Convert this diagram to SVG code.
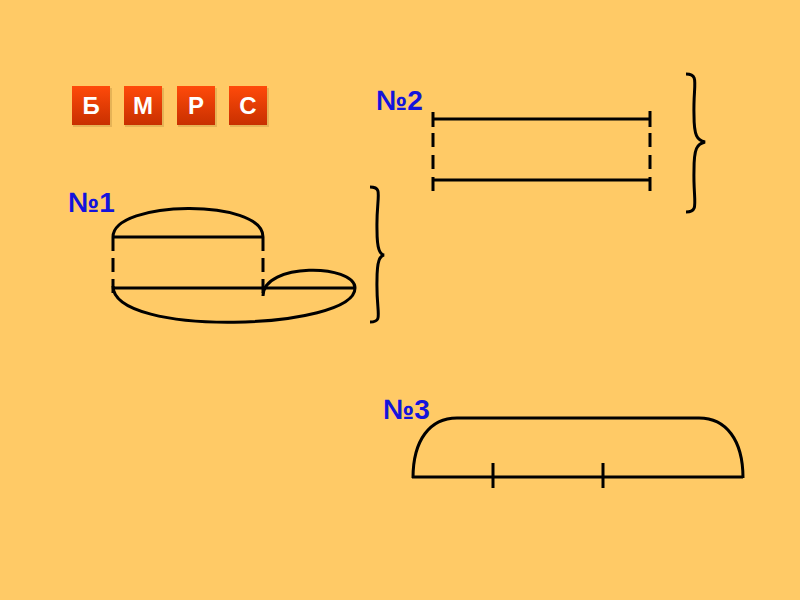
<svg xmlns="http://www.w3.org/2000/svg" width="800" height="600" viewBox="0 0 800 600">
<defs>
<linearGradient id="btn" x1="0" y1="0" x2="0" y2="1">
<stop offset="0" stop-color="#FF4A0A"/>
<stop offset="1" stop-color="#C83000"/>
</linearGradient>
<style>
.ln{fill:none;stroke:#000;stroke-width:3;stroke-linecap:butt}
.ds{fill:none;stroke:#000;stroke-width:3;stroke-dasharray:14 7}
.lbl{font-family:"Liberation Sans",Arial,sans-serif;font-weight:bold;font-size:28px;fill:#1414DC}
.bt{font-family:"Liberation Sans",Arial,sans-serif;font-weight:bold;font-size:24px;fill:#fff;text-anchor:middle}
.btn{fill:url(#btn)}
.sh{fill:#B88A3A;opacity:0.35}
</style>
</defs>
<rect width="800" height="600" fill="#FFCA66"/>
<g id="buttons">
<g id="btnB"><rect class="sh" x="73" y="88" width="39" height="39"/><rect class="btn" x="72" y="86" width="38" height="39"/><text class="bt" x="91" y="114">Б</text></g>
<g id="btnM"><rect class="sh" x="125" y="88" width="39" height="39"/><rect class="btn" x="124" y="86" width="38" height="39"/><text class="bt" x="143" y="114">М</text></g>
<g id="btnR"><rect class="sh" x="178" y="88" width="39" height="39"/><rect class="btn" x="177" y="86" width="38" height="39"/><text class="bt" x="196" y="114">Р</text></g>
<g id="btnS"><rect class="sh" x="230" y="88" width="39" height="39"/><rect class="btn" x="229" y="86" width="38" height="39"/><text class="bt" x="248" y="114">С</text></g>
</g>
<g id="fig1">
<text class="lbl" x="68" y="212">№1</text>
<path class="ln" d="M113,237 C113,200 263,198 263,237"/>
<line class="ln" x1="113" y1="237" x2="263" y2="237"/>
<line class="ds" x1="113" y1="237" x2="113" y2="300"/>
<line class="ds" x1="263" y1="237" x2="263" y2="300"/>
<line class="ln" x1="113" y1="288" x2="355" y2="288"/>
<path class="ln" d="M263,296 C263,262 355,264 355,288"/>
<path class="ln" d="M113,286 C113,338 355,330 355,288"/>
<path class="ln" d="M370,187 C384,187 376,196 377,230 C377,250 380,254 384,255 C380,256 377,260 377,280 C376,314 384,322 370,322"/>
</g>
<g id="fig2">
<text class="lbl" x="376" y="110">№2</text>
<line class="ln" x1="433" y1="119" x2="650" y2="119"/>
<line class="ln" x1="433" y1="180" x2="650" y2="180"/>
<line class="ln" x1="433" y1="112" x2="433" y2="127"/>
<line class="ln" x1="650" y1="111" x2="650" y2="127"/>
<line class="ds" x1="433" y1="133" x2="433" y2="197" style="stroke-dasharray:14 8"/>
<line class="ds" x1="650" y1="133" x2="650" y2="193" style="stroke-dasharray:14 8"/>
<path class="ln" d="M686,74 C700,74 693,84 694,115 C694,136 697,140 705,142 C697,144 694,148 694,170 C693,202 700,212 686,212"/>
</g>
<g id="fig3">
<text class="lbl" x="383" y="419">№3</text>
<line class="ln" x1="412" y1="477" x2="743" y2="477"/>
<path class="ln" d="M413,478 C413,440 430,418 457,418 L699,418 C726,418 743,440 743,478"/>
<line class="ln" x1="493" y1="463" x2="493" y2="488"/>
<line class="ln" x1="603" y1="463" x2="603" y2="488"/>
</g>
</svg>
